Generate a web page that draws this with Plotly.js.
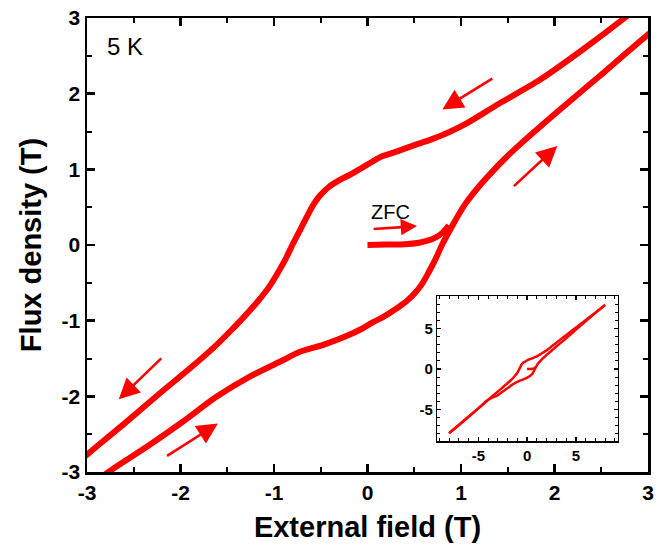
<!DOCTYPE html>
<html>
<head>
<meta charset="utf-8">
<script src="https://cdn.plot.ly/plotly-3.0.1.min.js"></script>
<style>html,body{margin:0;padding:0;background:#fff;}#chart{width:665px;height:555px;}</style>
</head>
<body>
<div id="chart"></div>
<script>
// Descending branch (field swept from +8 T to -8 T)
const downX = [8, 7, 6, 5, 4, 3, 2.77, 2.30, 1.84, 1.41, 1.05, 0.87, 0.69, 0.48, 0.30, 0.15, 0.05, -0.06, -0.17, -0.31, -0.42, -0.51, -0.58, -0.65, -0.72, -0.80, -0.87, -0.96, -1.05, -1.17, -1.32, -1.46, -1.64, -1.87, -2.23, -2.62, -3.01, -4, -5, -6, -7, -8];
const downY = [7.9, 6.96, 6.03, 5.1, 4.17, 3.25, 3.02, 2.58, 2.18, 1.87, 1.60, 1.49, 1.40, 1.31, 1.23, 1.17, 1.10, 1.02, 0.94, 0.85, 0.76, 0.65, 0.53, 0.37, 0.20, 0.01, -0.17, -0.37, -0.55, -0.74, -0.95, -1.13, -1.35, -1.60, -1.97, -2.38, -2.78, -3.8, -4.85, -5.88, -6.9, -7.9];
// Ascending branch (field swept from -8 T to +8 T)
const upX = [-8, -7, -6, -5, -4, -3, -2.77, -2.34, -1.98, -1.62, -1.26, -0.90, -0.74, -0.45, -0.20, -0.05, 0.06, 0.17, 0.31, 0.42, 0.51, 0.58, 0.65, 0.73, 0.80, 0.87, 0.96, 1.05, 1.19, 1.32, 1.46, 1.64, 1.87, 2.05, 2.23, 2.48, 2.62, 3.0, 4, 5, 6, 7, 8];
const upY = [-7.9, -6.9, -5.88, -4.85, -3.8, -3.22, -3.0, -2.65, -2.34, -2.01, -1.74, -1.52, -1.42, -1.31, -1.19, -1.10, -1.02, -0.95, -0.84, -0.74, -0.63, -0.52, -0.37, -0.18, 0.01, 0.17, 0.37, 0.55, 0.77, 0.95, 1.13, 1.34, 1.59, 1.78, 1.97, 2.23, 2.38, 2.78, 3.8, 4.85, 5.88, 6.9, 7.9];
// Zero-field-cooled virgin curve
const zfcX = [0, 0.2, 0.4, 0.55, 0.65, 0.73, 0.80, 0.87];
const zfcY = [0, 0.005, 0.01, 0.03, 0.06, 0.10, 0.16, 0.26];

const mainTicks = [-3, -2, -1, 0, 1, 2, 3];
const mainTickText = ['-3', '-2', '-1', '0', '1', '2', '3'];
const insetTicks = [-5, 0, 5];
const insetTickText = ['-5', '0', '5'];

const RED = '#ff0000';
const FONT = 'Liberation Sans Narrow, Arial Narrow, Liberation Sans, Arial, sans-serif';

const traces = [
  {x: downX, y: downY, mode: 'lines', line: {color: RED, width: 6, shape: 'spline', smoothing: 0.8}, xaxis: 'x', yaxis: 'y'},
  {x: upX, y: upY, mode: 'lines', line: {color: RED, width: 6, shape: 'spline', smoothing: 0.8}, xaxis: 'x', yaxis: 'y'},
  {x: zfcX, y: zfcY, mode: 'lines', line: {color: RED, width: 6, shape: 'spline'}, xaxis: 'x', yaxis: 'y'},
  {x: downX, y: downY, mode: 'lines', line: {color: RED, width: 2.5, shape: 'spline'}, xaxis: 'x2', yaxis: 'y2'},
  {x: upX, y: upY, mode: 'lines', line: {color: RED, width: 2.5, shape: 'spline'}, xaxis: 'x2', yaxis: 'y2'},
  {x: zfcX, y: zfcY, mode: 'lines', line: {color: RED, width: 2.5, shape: 'spline'}, xaxis: 'x2', yaxis: 'y2'}
];

function arrow(tx, ty, hx, hy, size) {
  return {x: hx, y: hy, ax: tx, ay: ty, xref: 'x', yref: 'y', axref: 'x', ayref: 'y',
    text: '', showarrow: true, arrowhead: 2, arrowsize: size, arrowwidth: 2.6, arrowcolor: RED};
}

const mainAxis = {
  showline: true, linewidth: 2.5, linecolor: '#000', mirror: 'ticks',
  ticks: 'inside', ticklen: 8, tickwidth: 2.5, tickcolor: '#000',
  showgrid: false, zeroline: false,
  tickfont: {family: FONT, size: 21, color: '#000', weight: 'bold'},
  minor: {ticks: 'inside', ticklen: 5, tickwidth: 2, tickcolor: '#000', dtick: 0.5, showgrid: false}
};

const layout = {
  width: 665, height: 555,
  margin: {l: 87, r: 17, t: 18, b: 83},
  paper_bgcolor: '#fff', plot_bgcolor: '#fff',
  showlegend: false,
  xaxis: Object.assign({}, mainAxis, {
    range: [-3, 3], tickvals: mainTicks, ticktext: mainTickText, domain: [0, 1],
    title: {text: 'External field (T)', font: {family: FONT, size: 29, color: '#000', weight: 'bold'}, standoff: 14}
  }),
  yaxis: Object.assign({}, mainAxis, {
    range: [-3, 3], tickvals: mainTicks, ticktext: mainTickText, domain: [0, 1],
    title: {text: 'Flux density (T)', font: {family: FONT, size: 29, color: '#000', weight: 'bold'}, standoff: 12}
  }),
  xaxis2: {
    domain: [0.6246, 0.946], anchor: 'y2', range: [-9.2, 9.3],
    showline: true, linewidth: 1.5, linecolor: '#000', mirror: 'ticks',
    ticks: 'inside', ticklen: 4, tickwidth: 1.5, tickcolor: '#000',
    tickvals: insetTicks, ticktext: insetTickText,
    showgrid: false, zeroline: false,
    tickfont: {family: FONT, size: 15, color: '#000', weight: 'bold'},
    minor: {ticks: 'inside', ticklen: 3, tickwidth: 1, tickcolor: '#000', dtick: 1, showgrid: false}
  },
  yaxis2: {
    domain: [0.0677, 0.3875], anchor: 'x2', range: [-8.9, 9.0],
    showline: true, linewidth: 1.5, linecolor: '#000', mirror: 'ticks',
    ticks: 'inside', ticklen: 4, tickwidth: 1.5, tickcolor: '#000',
    tickvals: insetTicks, ticktext: insetTickText,
    showgrid: false, zeroline: false,
    tickfont: {family: FONT, size: 15, color: '#000', weight: 'bold'},
    minor: {ticks: 'inside', ticklen: 3, tickwidth: 1, tickcolor: '#000', dtick: 1, showgrid: false}
  },
  annotations: [
    {x: -2.59, y: 2.62, xref: 'x', yref: 'y', text: '5 K', showarrow: false,
     font: {family: 'Liberation Sans, Arial, sans-serif', size: 24, color: '#000'}},
    {x: 0.25, y: 0.44, xref: 'x', yref: 'y', text: 'ZFC', showarrow: false,
     font: {family: 'Liberation Sans, Arial, sans-serif', size: 20, color: '#000'}},
    arrow(1.35, 2.21, 0.80, 1.79, 1.6),
    arrow(1.55, 0.76, 2.03, 1.31, 1.6),
    arrow(-2.19, -1.48, -2.66, -2.04, 1.6),
    arrow(-2.16, -2.80, -1.60, -2.36, 1.6),
    arrow(0.05, 0.21, 0.53, 0.25, 1.25)
  ]
};

Plotly.newPlot('chart', traces, layout, {staticPlot: true, displayModeBar: false});
</script>
</body>
</html>
